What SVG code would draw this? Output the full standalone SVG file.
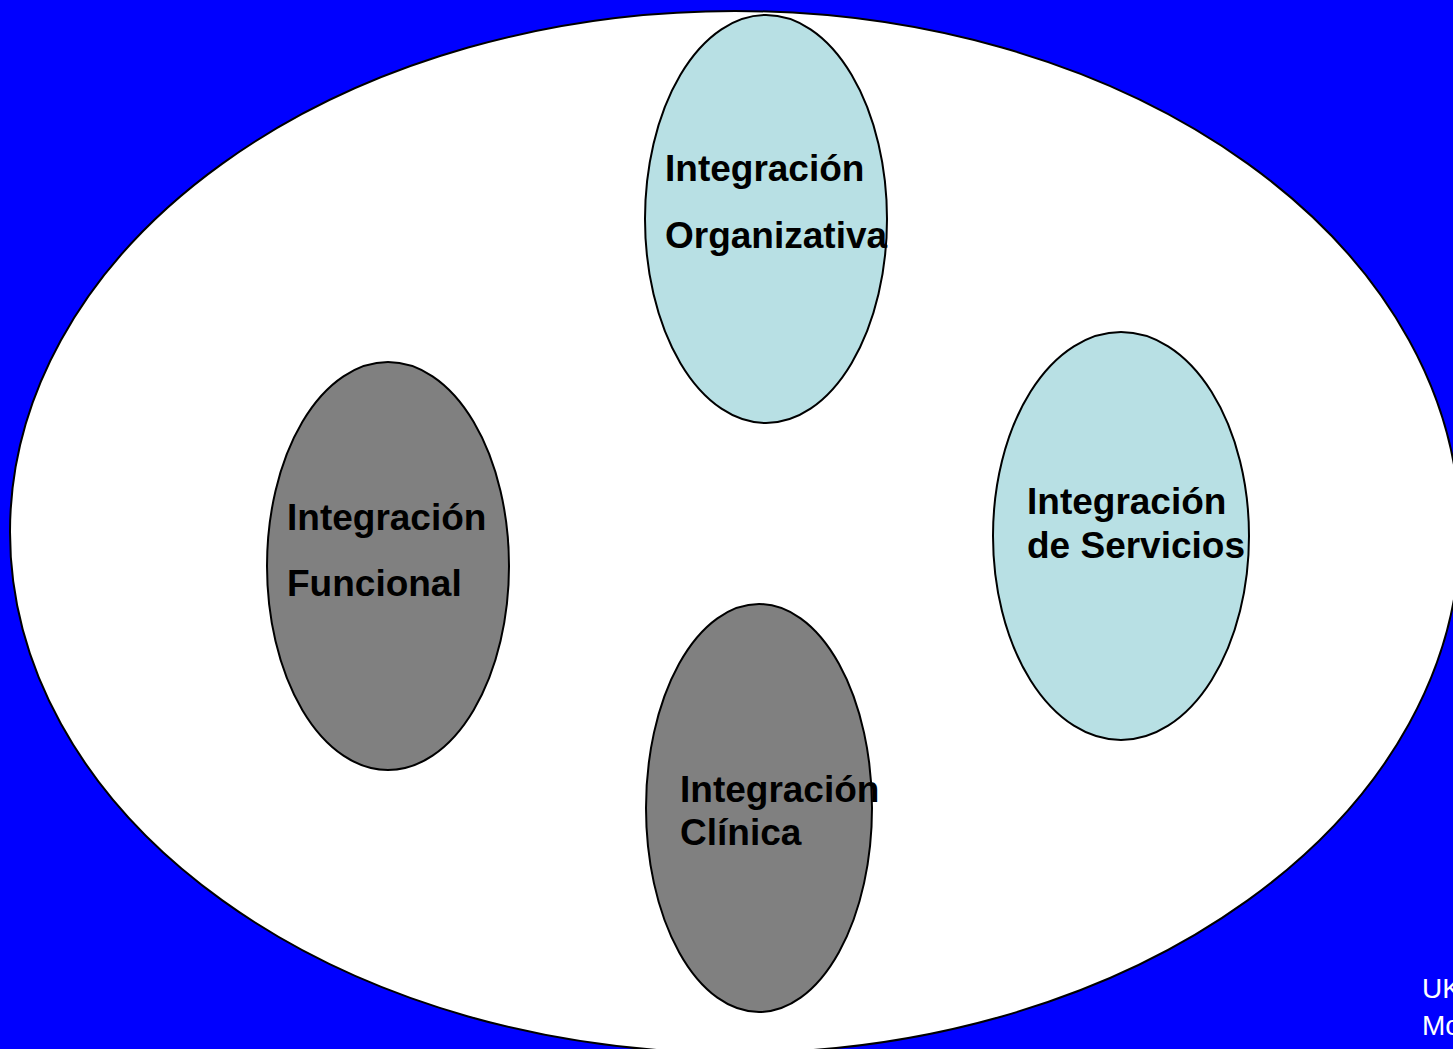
<svg xmlns="http://www.w3.org/2000/svg" width="1453" height="1049" viewBox="0 0 1453 1049">
  <style>
    .outline { stroke: #000; stroke-width: 2; }
    .teal { fill: #B8E0E4; }
    .grey { fill: #808080; }
    .label { font-family: "Liberation Sans", Arial, sans-serif; font-weight: bold; font-size: 37px; fill: #000; }
    .note { font-family: "Liberation Sans", Arial, sans-serif; font-size: 28px; fill: #fff; }
  </style>
  <!-- background -->
  <rect x="0" y="0" width="1453" height="1049" fill="#0000FF"/>
  <!-- enclosing ellipse -->
  <ellipse id="frame" cx="735" cy="532" rx="725" ry="521" fill="#fff" class="outline"/>

  <g id="node-organizativa">
    <ellipse cx="766" cy="219" rx="121" ry="204" class="teal outline"/>
    <text class="label" x="665" y="181">Integración</text>
    <text class="label" x="665" y="248">Organizativa</text>
  </g>

  <g id="node-funcional">
    <ellipse cx="388" cy="566" rx="121" ry="204" class="grey outline"/>
    <text class="label" x="287" y="530">Integración</text>
    <text class="label" x="287" y="596">Funcional</text>
  </g>

  <g id="node-servicios">
    <ellipse cx="1121" cy="536" rx="128" ry="204" class="teal outline"/>
    <text class="label" x="1027" y="514">Integración</text>
    <text class="label" x="1027" y="558">de Servicios</text>
  </g>

  <g id="node-clinica">
    <ellipse cx="759" cy="808" rx="113" ry="204" class="grey outline"/>
    <text class="label" x="680" y="802">Integración</text>
    <text class="label" x="680" y="845">Clínica</text>
  </g>

  <g id="connectors"></g>

  <!-- footer note, running off the page edge -->
  <text class="note" x="1422" y="998">UK</text>
  <text class="note" x="1422" y="1035">Mo</text>
</svg>
